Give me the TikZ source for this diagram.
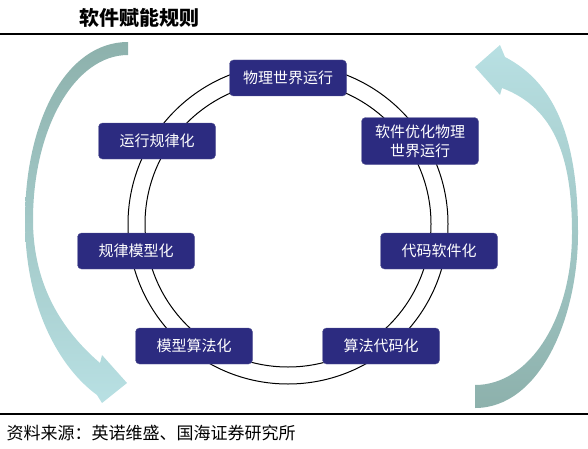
\documentclass[tikz,border=0pt]{standalone}
\usepackage{fontspec}
\setmainfont{Noto Sans CJK SC}
\usetikzlibrary{positioning}
\definecolor{boxblue}{RGB}{44,43,128}
\definecolor{boxline}{RGB}{90,90,150}
\definecolor{tealdark}{RGB}{141,177,172}
\definecolor{teallight}{RGB}{184,224,227}
\tikzset{
  step box/.style={fill=boxblue,draw=boxline,thin,rounded corners=4pt,text=white,align=center,
    minimum width=117pt,minimum height=36pt,inner sep=2pt,font=\fontsize{15}{19}\selectfont},
  ring/.style={line width=1pt,black},
  rule/.style={line width=2.5pt,black},
  bigarrow/.style 2 args={top color=#1,bottom color=#2,draw=none}
}
\def\ctr{(288,224)}
\def\orad{160}
\def\irad{143}

\begin{document}
\begin{tikzpicture}[x=1pt,y=1pt]
  \useasboundingbox (0,0) rectangle (588,448);

  % Title and rules
  \node[anchor=west,font=\fontsize{20}{24}\selectfont\bfseries] at (76,430) (title) {软件赋能规则};
  \draw[rule] (0,414) -- (588,414);
  \draw[rule] (0,34) -- (588,34);
  \node[anchor=west,font=\fontsize{17}{20}\selectfont] at (3,15) (source) {资料来源：英诺维盛、国海证券研究所};

  % Curved arrows
  \shade[bigarrow={tealdark}{teallight}] (128,406) .. controls (65,406) and (25,325) .. (25,228)
    .. controls (25,140) and (60,80) .. (97,53) -- (102,45) -- (127,65) -- (102,93) -- (100,85)
    .. controls (65,115) and (33,160) .. (33,228) .. controls (33,320) and (75,393) .. (128,393) -- cycle;
  \shade[bigarrow={teallight}{tealdark}] (475,40) .. controls (540,40) and (578,130) .. (578,215)
    .. controls (578,310) and (555,365) .. (505,391) -- (500,403) -- (475,381) -- (500,353) -- (502,360)
    .. controls (555,340) and (572,290) .. (572,215) .. controls (572,130) and (530,63) .. (475,63) -- cycle;

  % Rings
  \draw[ring] \ctr circle (\orad);
  \draw[ring] \ctr circle (\irad);

  % Steps
  \node[step box] at (288,370) (run) {物理世界运行};
  \node[step box,minimum height=47pt] at (420,307) (optim) {软件优化物理\\世界运行};
  \node[step box] at (439,197) (soft) {代码软件化};
  \node[step box] at (381,102) (code) {算法代码化};
  \node[step box] at (194,102) (algo) {模型算法化};
  \node[step box] at (136,197) (model) {规律模型化};
  \node[step box] at (157,307) (law) {运行规律化};
\end{tikzpicture}
\end{document}
